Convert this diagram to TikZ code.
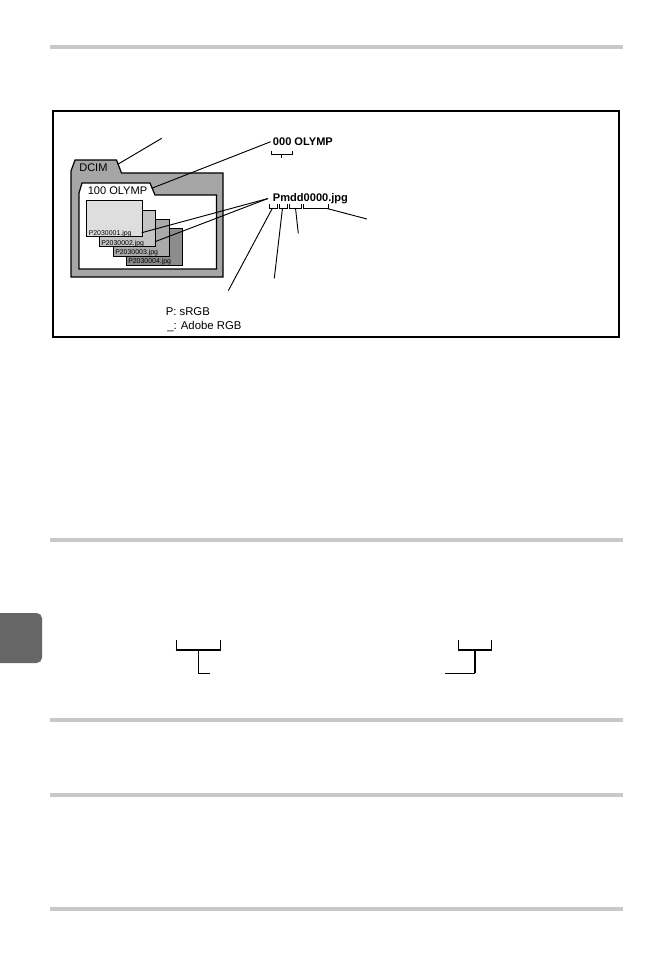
\documentclass[tikz,border=0pt]{standalone}
\usepackage{fontspec}
\setmainfont{Liberation Sans}
\begin{document}
\begin{tikzpicture}[x=0.75pt,y=-0.75pt,
  sepbar/.style={fill=bargray,draw=none},
  thinline/.style={draw=black,line width=0.7pt},
  outline/.style={draw=black,line width=0.9pt},
  filebox/.style={draw=black,line width=0.75pt},
  lbl/.style={inner sep=0pt,anchor=base west,font=\fontsize{8.3}{10}\selectfont},
  blbl/.style={inner sep=0pt,anchor=base west,font=\fontsize{8.3}{10}\selectfont\bfseries},
  flbl/.style={inner sep=0pt,anchor=base west,font=\fontsize{5.2}{6}\selectfont},
  thickbr/.style={draw=black,line width=1.6pt},
]
\definecolor{bargray}{RGB}{200,200,200}
\definecolor{tabgray}{RGB}{102,102,102}
\definecolor{foldgray}{RGB}{166,166,166}
\definecolor{fa}{RGB}{222,222,222}
\definecolor{fb}{RGB}{196,196,196}
\definecolor{fc}{RGB}{170,170,170}
\definecolor{fd}{RGB}{140,140,140}
\useasboundingbox[fill=white] (0,0) rectangle (663,954);

% separator bars
\fill[sepbar] (50,45) rectangle (623,49);
\fill[sepbar] (50,538) rectangle (623,542);
\fill[sepbar] (50,718) rectangle (623,722);
\fill[sepbar] (50,793) rectangle (623,797);
\fill[sepbar] (50,907) rectangle (623,911);

% side tab
\fill[tabgray,rounded corners=4pt] (-10,613) rectangle (42,663);

% frame
\draw[line width=1.6pt] (53,111) rectangle (619,337);

% outer folder
\draw[outline,fill=foldgray] (71,277) -- (71,171) -- (75,160) -- (116.5,160) -- (121.5,173) -- (223,173) -- (223,277) -- cycle;
% inner folder
\draw[outline,fill=white] (79,269) -- (79,193) -- (82,183) -- (150,183) -- (155,195) -- (216.5,195) -- (216.5,269) -- cycle;

% files
\draw[filebox,fill=fd] (126.7,228.3) rectangle (182.3,265);
\draw[filebox,fill=fc] (113.3,219.3) rectangle (169.3,256);
\draw[filebox,fill=fb] (99.3,210.7) rectangle (155.7,246.7);
\draw[filebox,fill=fa] (86,200.7) rectangle (142.3,236.7);
\node[flbl] (f1) at (88.5,235.3) {P2030001.jpg};
\node[flbl] (f2) at (101,245) {P2030002.jpg};
\node[flbl] (f3) at (115,254.2) {P2030003.jpg};
\node[flbl] (f4) at (128,263.2) {P2030004.jpg};

% folder labels
\node[lbl] (dcim) at (79,171) {DCIM};
\node[lbl] (olymp) at (87.5,194.5) {100 OLYMP};

% name labels
\node[blbl] (fold) at (272.7,145) {000 OLYMP};
\node[blbl] (fname) at (272.7,201.5) {Pmdd0000.jpg};

\node[lbl,font=\fontsize{8.5}{10}\selectfont] (srgb) at (165.5,315) {P: sRGB};
\node[lbl,font=\fontsize{8.5}{10}\selectfont] (argb) at (167,329.3) {\_: Adobe RGB};

% coordinates for connectors
\coordinate (dcimtab) at (118.3,164);
\coordinate (dcimend) at (161.7,138.3);
\coordinate (olytab) at (151.7,188.3);
\coordinate (olyend) at (270.7,141.7);
\coordinate (pstart) at (268,198.5);
\coordinate (f1end) at (141.7,232.7);
\coordinate (f2end) at (155,241.7);

% brackets under 000 OLYMP
\draw[thinline] (271,150.5) -- (271,154) -- (292.3,154) -- (292.3,150.5);
\coordinate (b0mid) at (281.7,154);
\coordinate (b0end) at (281.7,158.3);
\draw[thinline] (b0mid) -- (b0end);

% brackets under Pmdd0000.jpg
\draw[thinline] (269,204) -- (269,208) -- (277.3,208) -- (277.3,204);
\draw[thinline] (279.3,204) -- (279.3,208) -- (287.7,208) -- (287.7,204);
\draw[thinline] (289.3,204) -- (289.3,208) -- (301.7,208) -- (301.7,204);
\draw[thinline] (303.3,204) -- (303.3,208) -- (328.3,208) -- (328.3,204);
\coordinate (bp) at (272.5,208);
\coordinate (bm) at (282.5,208);
\coordinate (bd) at (295.5,208);
\coordinate (bn) at (327,208.5);
\coordinate (bpend) at (228.3,290.7);
\coordinate (bmend) at (274.3,278.3);
\coordinate (bdend) at (298.3,233.3);
\coordinate (bnend) at (367,219);

% connectors
\draw[thinline] (dcimtab) -- (dcimend);
\draw[thinline] (olytab) -- (olyend);
\draw[thinline] (pstart) -- (f1end);
\draw[thinline] (pstart) -- (f2end);
\draw[thinline] (bp) -- (bpend);
\draw[thinline] (bm) -- (bmend);
\draw[thinline] (bd) -- (bdend);
\draw[thinline] (bn) -- (bnend);

% lower brackets
\draw[thinline] (176,640) -- (176,650);
\draw[thinline] (220.7,640) -- (220.7,650);
\draw[thickbr] (175.6,650) -- (221.1,650);
\coordinate (lbm) at (198.7,650);
\coordinate (lbf) at (210,673.3);
\draw[thinline] (lbm) |- (lbf);

\draw[thinline] (458.3,640) -- (458.3,650);
\draw[thinline] (491.7,640) -- (491.7,650);
\draw[thickbr] (457.9,650) -- (492.1,650);
\coordinate (rbm) at (475,650);
\coordinate (rbc) at (475,673.3);
\coordinate (rbf) at (445,673.3);
\draw[thickbr] (rbm) -- (rbc);
\draw[draw=black,line width=1.1pt] (rbc) -- (rbf);
\end{tikzpicture}
\end{document}
